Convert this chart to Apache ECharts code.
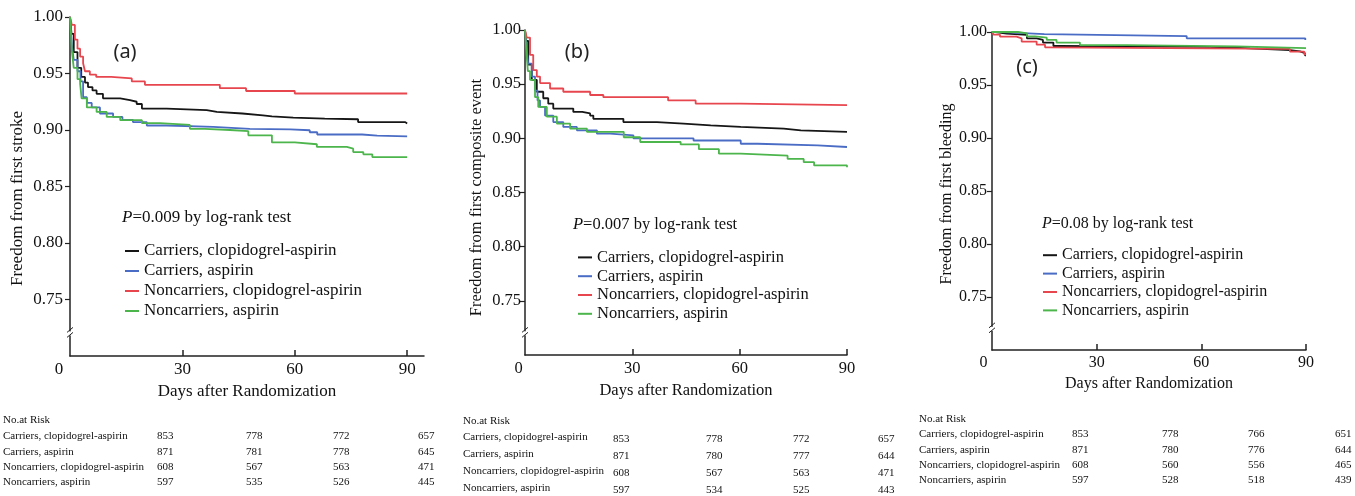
<!DOCTYPE html>
<html>
<head>
<meta charset="utf-8">
<script src="https://cdn.jsdelivr.net/npm/echarts@6/dist/echarts.min.js"></script>
<style>
  html, body { margin: 0; padding: 0; background: #fff; }
  #container { width: 1355px; height: 496px; }
</style>
</head>
<body>
<div id="container"></div>
<script>
// Nomes das séries (iguais nos três painéis)
var seriesNames = ['Carriers, clopidogrel-aspirin', 'Carriers, aspirin', 'Noncarriers, clopidogrel-aspirin', 'Noncarriers, aspirin'];
var seriesColors = ['#161616', '#4a6cc4', '#e8464f', '#4cb54c'];
var panelTags = ['(a)', '(b)', '(c)'];
var yNames = ['Freedom from first stroke', 'Freedom from first composite event', 'Freedom from first bleeding'];
var pTexts = ['=0.009 by log-rank test', '=0.007 by log-rank test', '=0.08 by log-rank test'];
var yTicks = [0.75, 0.80, 0.85, 0.90, 0.95, 1.00];
var xTicks = [0, 30, 60, 90];

// (a) primeiro AVC - [dia, sobrevivência]
var aCarClo = [[0,1],[0.4,0.985],[1,0.969],[2,0.955],[3,0.947],[4,0.942],[4.8,0.938],[6,0.935],[7.1,0.932],[8.8,0.928],[13.4,0.9264],[16,0.925],[17.8,0.923],[19.2,0.919],[25.8,0.9175],[36.5,0.916],[39.2,0.9146],[46,0.913],[51.5,0.912],[53.9,0.911],[59.6,0.910],[68,0.9095],[76.9,0.907],[89.5,0.9057],[90,0.9057]];
var aCarAsp = [[0,1],[0.5,0.975],[1,0.962],[2,0.952],[2.8,0.943],[3.5,0.929],[4.5,0.924],[5.8,0.920],[8,0.9146],[11.5,0.9116],[14,0.909],[16.8,0.907],[20.5,0.904],[25.8,0.9027],[38.2,0.901],[48,0.9005],[58.8,0.8998],[64,0.898],[66,0.896],[78,0.895],[82,0.8944],[90,0.8944]];
var aNonClo = [[0,1],[0.5,0.993],[1.3,0.980],[2,0.972],[2.7,0.965],[3.5,0.959],[4,0.952],[5.3,0.949],[7,0.947],[11,0.9456],[16.5,0.943],[20,0.940],[40,0.937],[47,0.9345],[60,0.9323],[90,0.9323]];
var aNonAsp = [[0,1],[0.5,0.97],[1,0.955],[2,0.945],[2.7,0.941],[3.1,0.928],[4.5,0.920],[7.1,0.916],[9.8,0.9116],[13.4,0.9087],[19.2,0.906],[24,0.9045],[32,0.901],[36,0.900],[42.7,0.899],[47.6,0.8953],[53.9,0.889],[60,0.8874],[65.9,0.885],[73.9,0.8835],[75.6,0.8805],[78.3,0.8785],[80.7,0.876],[90,0.8755]];

// (b) primeiro evento composto
var bCarClo = [[0,1],[0.3,0.99],[0.9,0.968],[1.9,0.954],[3.3,0.943],[5.1,0.937],[6.5,0.932],[7.9,0.9275],[13.5,0.9244],[16,0.923],[18.2,0.921],[19.1,0.918],[27.5,0.915],[36.9,0.9136],[44.3,0.912],[51.9,0.9105],[60.3,0.909],[72.3,0.9074],[77.1,0.906],[90,0.9055]];
var bCarAsp = [[0,1],[0.3,0.99],[0.85,0.969],[1.9,0.957],[2.8,0.944],[3.5,0.935],[4.2,0.929],[5.6,0.921],[7.9,0.915],[10.7,0.9105],[14.5,0.9074],[20.1,0.9043],[23.8,0.9028],[30.3,0.900],[47.1,0.898],[60.3,0.895],[65,0.8935],[81.8,0.892],[90,0.892]];
var bNonClo = [[0,1],[0.5,0.993],[1.4,0.977],[2.3,0.963],[3.3,0.957],[4.2,0.951],[7,0.946],[10.7,0.943],[18.2,0.940],[21.9,0.938],[40,0.935],[47.7,0.932],[60.3,0.9306],[90,0.9306]];
var bNonAsp = [[0,1],[0.3,0.985],[0.8,0.962],[1.4,0.954],[2.8,0.938],[3.7,0.929],[6.1,0.920],[8.9,0.9136],[12.6,0.909],[17.3,0.906],[27.6,0.901],[32.2,0.8966],[43.5,0.8944],[48.6,0.890],[54.2,0.8858],[60.3,0.884],[73.4,0.881],[77.9,0.878],[80.8,0.875],[90,0.8734]];

// (c) primeiro sangramento
var cCarClo = [[0,1],[1,0.9985],[4.2,0.9972],[10,0.994],[12.8,0.9925],[14.6,0.990],[17.6,0.9868],[19.5,0.986],[62.5,0.9855],[68.2,0.9846],[74,0.983],[85.4,0.9818],[88.3,0.980],[89.7,0.978],[90,0.978]];
var cCarAsp = [[0,1],[3,0.999],[9,0.998],[15,0.9962],[55.8,0.994],[89.8,0.9925],[90,0.9925]];
var cNonClo = [[0,1],[0.5,0.9975],[2.3,0.9956],[7,0.994],[8.5,0.991],[12.8,0.988],[15.2,0.9855],[16,0.984],[85.4,0.9815],[89.5,0.979],[90,0.979]];
var cNonAsp = [[0,1],[7.5,0.9988],[10,0.9958],[12.3,0.9946],[15.7,0.9925],[18.5,0.990],[25.2,0.9877],[38.6,0.9865],[70,0.9848],[90,0.9845]];

// Número em risco (linhas = séries, colunas = 0/30/60/90 dias)
var riskA = [[853,778,772,657],[871,781,778,645],[608,567,563,471],[597,535,526,445]];
var riskB = [[853,778,772,657],[871,780,777,644],[608,567,563,471],[597,534,525,443]];
var riskC = [[853,778,766,651],[871,780,776,644],[608,560,556,465],[597,528,518,439]];

var panelData = [[aCarClo, aCarAsp, aNonClo, aNonAsp], [bCarClo, bCarAsp, bNonClo, bNonAsp], [cCarClo, cCarAsp, cNonClo, cNonAsp]];
var riskData = [riskA, riskB, riskC];

var serif = '"Liberation Serif", "Times New Roman", serif';

// Layout de cada painel
var layout = [
    { grid: { left: 70, top: 17, width: 354, height: 339 }, xMax: 94.5, fs: 17, yGap: 44, yPad: 24, xGap: 27, zeroPad: 22, yMargin: 7,
      tag: [125, 52], p: [122, 218], legend: [125, 241], legendLH: 20,
      table: { head: [3, 420], rows: [436, 452, 467, 482], labelX: 3, cols: [157, 246, 333, 418] } },
    { grid: { left: 525, top: 30, width: 322, height: 325 }, xMax: 90, fs: 16.5, yGap: 40, yPad: 10, xGap: 22, zeroPad: 13, yMargin: 4,
      tag: [577, 52], p: [573, 225], legend: [578, 248], legendLH: 18.8,
      table: { head: [463, 421], rows: [437, 454, 471, 488], labelX: 463, cols: [613, 706, 793, 878] } },
    { grid: { left: 992, top: 32, width: 314, height: 318 }, xMax: 90, fs: 16, yGap: 37, yPad: 6, xGap: 26, zeroPad: 17, yMargin: 5,
      tag: [1027, 67], p: [1042, 224], legend: [1043, 246], legendLH: 18.4,
      table: { head: [919, 419], rows: [434, 450, 465, 480], labelX: 919, cols: [1072, 1162, 1248, 1335] } }
];

var dom = document.getElementById('container');
var myChart = echarts.init(dom, null, { renderer: 'canvas' });

var grids = [], xAxes = [], yAxes = [], legends = [], series = [];

layout.forEach(function (L, i) {
    grids.push(Object.assign({ outerBoundsMode: 'none', containLabel: false }, L.grid));
    xAxes.push({
        type: 'value', gridIndex: i, min: 0, max: L.xMax, interval: 30,
        name: 'Days after Randomization', nameLocation: 'middle', nameGap: L.xGap,
        nameTextStyle: { fontFamily: serif, fontSize: L.fs, color: '#111' },
        axisLine: { show: true, onZero: false, lineStyle: { color: '#222', width: 1.5 } },
        axisTick: { show: true, inside: true, length: 6, customValues: [30, 60, 90], lineStyle: { color: '#222', width: 1.5 } },
        axisLabel: {
            customValues: xTicks, margin: 5, color: '#111', fontFamily: serif, fontSize: L.fs,
            formatter: function (v) { return v === 0 ? '{z|0}' : String(v); },
            rich: { z: { padding: [0, L.zeroPad, 0, 0], fontFamily: serif, fontSize: L.fs, color: '#111' } }
        },
        splitLine: { show: false }
    });
    yAxes.push({
        type: 'value', gridIndex: i, min: 0.7, max: 1.0, interval: 0.05,
        name: yNames[i], nameLocation: 'middle', nameGap: L.yGap,
        nameTextStyle: { fontFamily: serif, fontSize: L.fs, color: '#111', padding: [0, L.yPad, 0, 0] },
        axisLine: { show: true, onZero: false, lineStyle: { color: '#222', width: 1.5 } },
        axisTick: { show: true, inside: false, length: 5, customValues: yTicks, lineStyle: { color: '#222', width: 1.2 } },
        axisLabel: {
            customValues: yTicks, margin: L.yMargin, color: '#111', fontFamily: serif, fontSize: L.fs,
            formatter: function (v) { return v.toFixed(2); }
        },
        splitLine: { show: false }
    });
    legends.push({
        data: seriesNames, orient: 'vertical', left: L.legend[0], top: L.legend[1], padding: 0,
        icon: 'rect', itemWidth: 14, itemHeight: 2, itemGap: 0, selectedMode: false,
        textStyle: { fontFamily: serif, fontSize: L.fs, color: '#111', lineHeight: L.legendLH }
    });
    panelData[i].forEach(function (d, k) {
        series.push({
            name: seriesNames[k], type: 'line', step: 'end', xAxisIndex: i, yAxisIndex: i,
            data: d, symbol: 'none', color: seriesColors[k],
            lineStyle: { width: 1.8, color: seriesColors[k] }, silent: true, animation: false
        });
    });
});

var option = {
    animation: false,
    grid: grids,
    xAxis: xAxes,
    yAxis: yAxes,
    legend: legends,
    series: series
};
myChart.setOption(option);

// Textos e marcas de quebra do eixo
var gfx = [];
layout.forEach(function (L, i) {
    gfx.push({ type: 'text', style: { text: panelTags[i], x: L.tag[0], y: L.tag[1], align: 'center', verticalAlign: 'middle',
        font: '20px "Noto Sans", sans-serif', fill: '#222' } });
    gfx.push({ type: 'text', style: { text: '{i|P}' + pTexts[i], x: L.p[0], y: L.p[1], verticalAlign: 'middle',
        font: L.fs + 'px ' + serif, fill: '#111',
        rich: { i: { fontStyle: 'italic', fontFamily: serif, fontSize: L.fs, fill: '#111' } } } });
    var t = L.table;
    gfx.push({ type: 'text', style: { text: 'No.at Risk', x: t.head[0], y: t.head[1], verticalAlign: 'middle', font: '11px ' + serif, fill: '#111' } });
    riskData[i].forEach(function (row, r) {
        gfx.push({ type: 'text', style: { text: seriesNames[r], x: t.labelX, y: t.rows[r], verticalAlign: 'middle', font: '11px ' + serif, fill: '#111' } });
        row.forEach(function (n, c) {
            gfx.push({ type: 'text', style: { text: String(n), x: t.cols[c], y: t.rows[r] + (i === 1 ? 2 : 0), verticalAlign: 'middle', font: '11px ' + serif, fill: '#111' } });
        });
    });
    var p = myChart.convertToPixel({ gridIndex: i }, [0, 0.72]);
    gfx.push({ type: 'rect', z: 100, shape: { x: p[0] - 3, y: p[1] - 2, width: 6, height: 4 }, style: { fill: '#fff' } });
    gfx.push({ type: 'line', z: 101, shape: { x1: p[0] - 3, y1: p[1] - 1, x2: p[0] + 3, y2: p[1] - 6 }, style: { stroke: '#222', lineWidth: 1 } });
    gfx.push({ type: 'line', z: 101, shape: { x1: p[0] - 3, y1: p[1] + 4, x2: p[0] + 3, y2: p[1] - 1 }, style: { stroke: '#222', lineWidth: 1 } });
});
myChart.setOption({ graphic: gfx });

window.addEventListener('resize', function () {
    myChart.resize();
});
</script>
</body>
</html>
